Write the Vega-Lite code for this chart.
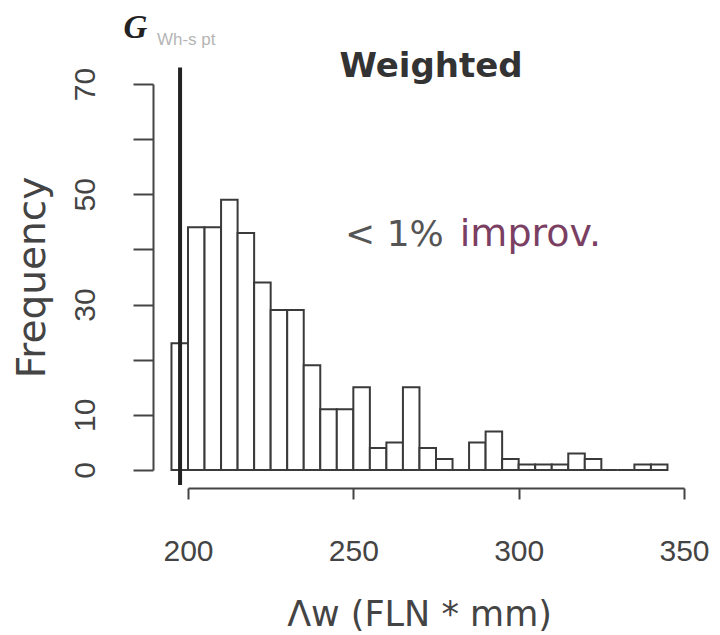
{
  "$schema": "https://vega.github.io/schema/vega-lite/v6.json",
  "width": 496,
  "height": 386,
  "autosize": {"type": "none"},
  "padding": {"left": 188, "top": 84, "right": 36, "bottom": 165},
  "background": "white",
  "config": {"view": {"stroke": null}, "font": "Liberation Sans"},
  "layer": [
    {
      "data": {"values": [
        {"start": 195, "end": 200, "count": 23},
        {"start": 200, "end": 205, "count": 44},
        {"start": 205, "end": 210, "count": 44},
        {"start": 210, "end": 215, "count": 49},
        {"start": 215, "end": 220, "count": 43},
        {"start": 220, "end": 225, "count": 34},
        {"start": 225, "end": 230, "count": 29},
        {"start": 230, "end": 235, "count": 29},
        {"start": 235, "end": 240, "count": 19},
        {"start": 240, "end": 245, "count": 11},
        {"start": 245, "end": 250, "count": 11},
        {"start": 250, "end": 255, "count": 15},
        {"start": 255, "end": 260, "count": 4},
        {"start": 260, "end": 265, "count": 5},
        {"start": 265, "end": 270, "count": 15},
        {"start": 270, "end": 275, "count": 4},
        {"start": 275, "end": 280, "count": 2},
        {"start": 280, "end": 285, "count": 0},
        {"start": 285, "end": 290, "count": 5},
        {"start": 290, "end": 295, "count": 7},
        {"start": 295, "end": 300, "count": 2},
        {"start": 300, "end": 305, "count": 1},
        {"start": 305, "end": 310, "count": 1},
        {"start": 310, "end": 315, "count": 1},
        {"start": 315, "end": 320, "count": 3},
        {"start": 320, "end": 325, "count": 2},
        {"start": 325, "end": 330, "count": 0},
        {"start": 330, "end": 335, "count": 0},
        {"start": 335, "end": 340, "count": 1},
        {"start": 340, "end": 345, "count": 1}
      ]},
      "mark": {"type": "bar", "fill": "white", "stroke": "#3a3a3a", "strokeWidth": 2},
      "encoding": {
        "x": {
          "field": "start", "type": "quantitative",
          "scale": {"domain": [200, 350], "nice": false, "zero": false},
          "title": "Λw (FLN * mm)",
          "axis": {
            "values": [200, 250, 300, 350], "offset": 18, "tickSize": 11, "tickWidth": 2,
            "tickColor": "#444", "domainColor": "#444", "domainWidth": 2, "grid": false,
            "labelFontSize": 30, "labelColor": "#444", "labelPadding": 37, "labelFlush": false,
            "titleFont": "DejaVu Sans", "titleFontSize": 35, "titleFontWeight": "normal",
            "titleColor": "#444", "titlePadding": 31, "titleX": 231
          }
        },
        "x2": {"field": "end"},
        "y": {
          "field": "count", "type": "quantitative",
          "scale": {"domain": [0, 70], "nice": false},
          "title": "Frequency",
          "axis": {
            "values": [0, 10, 20, 30, 40, 50, 60, 70],
            "labelExpr": "datum.value == 20 || datum.value == 40 || datum.value == 60 ? '' : datum.label",
            "offset": 35, "tickSize": 20, "tickWidth": 2, "tickColor": "#444",
            "domainColor": "#444", "domainWidth": 2, "grid": false,
            "labelAngle": 270, "labelFontSize": 30, "labelColor": "#444", "labelPadding": 33, "labelFlush": false,
            "titleFont": "DejaVu Sans", "titleFontSize": 39, "titleFontWeight": "normal",
            "titleColor": "#444", "titlePadding": 18
          }
        },
        "y2": {"datum": 0}
      }
    },
    {
      "data": {"values": [{"x": 197.6, "y": 73, "y2": -2.7}]},
      "mark": {"type": "rule", "strokeWidth": 4, "color": "#222"},
      "encoding": {
        "x": {"field": "x", "type": "quantitative", "title": "Λw (FLN * mm)"},
        "y": {"field": "y", "type": "quantitative", "title": "Frequency"},
        "y2": {"field": "y2"}
      }
    },
    {
      "data": {"values": [{"x": 180.5, "y": 80.2, "t": "G"}]},
      "mark": {"type": "text", "font": "Liberation Serif", "fontStyle": "italic", "fontWeight": "bold", "fontSize": 33, "align": "left", "baseline": "middle", "color": "#222"},
      "encoding": {
        "x": {"field": "x", "type": "quantitative", "title": "Λw (FLN * mm)"},
        "y": {"field": "y", "type": "quantitative", "title": "Frequency"},
        "text": {"field": "t"}
      }
    },
    {
      "data": {"values": [{"x": 190.6, "y": 78.0, "t": "Wh-s pt"}]},
      "mark": {"type": "text", "fontSize": 17, "align": "left", "baseline": "middle", "color": "#b5b5b5"},
      "encoding": {
        "x": {"field": "x", "type": "quantitative", "title": "Λw (FLN * mm)"},
        "y": {"field": "y", "type": "quantitative", "title": "Frequency"},
        "text": {"field": "t"}
      }
    },
    {
      "data": {"values": [{"x": 273.5, "y": 73.1, "t": "Weighted"}]},
      "mark": {"type": "text", "font": "DejaVu Sans", "fontSize": 34, "fontWeight": "bold", "align": "center", "baseline": "middle", "color": "#333"},
      "encoding": {
        "x": {"field": "x", "type": "quantitative", "title": "Λw (FLN * mm)"},
        "y": {"field": "y", "type": "quantitative", "title": "Frequency"},
        "text": {"field": "t"}
      }
    },
    {
      "data": {"values": [{"x": 247.5, "y": 42.6, "t": "< 1%"}]},
      "mark": {"type": "text", "font": "DejaVu Sans", "fontSize": 36, "align": "left", "baseline": "middle", "color": "#555"},
      "encoding": {
        "x": {"field": "x", "type": "quantitative", "title": "Λw (FLN * mm)"},
        "y": {"field": "y", "type": "quantitative", "title": "Frequency"},
        "text": {"field": "t"}
      }
    },
    {
      "data": {"values": [{"x": 282.2, "y": 42.6, "t": "improv."}]},
      "mark": {"type": "text", "font": "DejaVu Sans", "fontSize": 38, "align": "left", "baseline": "middle", "color": "#7a3f62"},
      "encoding": {
        "x": {"field": "x", "type": "quantitative", "title": "Λw (FLN * mm)"},
        "y": {"field": "y", "type": "quantitative", "title": "Frequency"},
        "text": {"field": "t"}
      }
    }
  ]
}
